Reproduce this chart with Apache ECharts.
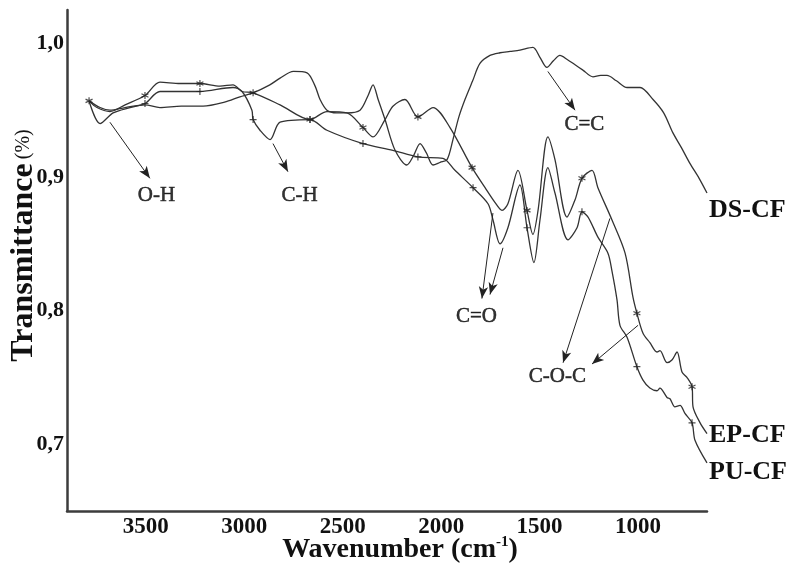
<!DOCTYPE html>
<html>
<head>
<meta charset="utf-8">
<title>FTIR spectra</title>
<script src="https://cdn.jsdelivr.net/npm/echarts@6/dist/echarts.min.js"></script>
<style>
  html, body { margin: 0; padding: 0; background: #fff; }
  #chart { width: 797px; height: 566px; }
</style>
</head>
<body>
<div id="chart"></div>
<script>
// [wavenumber (cm-1), transmittance]
const dsCurve = [
  [3788, 0.957], [3732, 0.952], [3682, 0.950], [3605, 0.952], [3504, 0.954], [3428, 0.952],
  [3320, 0.953], [3209, 0.953], [3100, 0.956], [3022, 0.960], [2955, 0.963], [2870, 0.969],
  [2818, 0.974], [2750, 0.979], [2681, 0.978], [2640, 0.968], [2615, 0.958], [2580, 0.950],
  [2530, 0.948], [2478, 0.948], [2412, 0.950], [2371, 0.961], [2346, 0.969], [2320, 0.958],
  [2285, 0.943], [2234, 0.920], [2174, 0.909], [2140, 0.916], [2107, 0.925], [2075, 0.918],
  [2041, 0.909], [2005, 0.911], [1970, 0.913], [1940, 0.928], [1910, 0.945], [1879, 0.958],
  [1840, 0.972], [1803, 0.985], [1752, 0.991], [1701, 0.993], [1650, 0.994], [1600, 0.995],
  [1534, 0.997], [1500, 0.990], [1463, 0.982], [1430, 0.987], [1397, 0.991], [1360, 0.988],
  [1320, 0.984], [1280, 0.980], [1229, 0.975], [1190, 0.976], [1158, 0.976], [1110, 0.972],
  [1056, 0.967], [990, 0.967], [924, 0.958], [870, 0.948], [823, 0.933], [780, 0.922],
  [736, 0.910], [690, 0.899], [650, 0.888]
]
const epCurve = [
  [3788, 0.957], [3748, 0.952], [3682, 0.949], [3605, 0.954], [3504, 0.961], [3428, 0.971],
  [3326, 0.970], [3225, 0.970], [3123, 0.968], [3057, 0.969], [3011, 0.964], [2955, 0.963],
  [2818, 0.954], [2666, 0.943], [2580, 0.949], [2478, 0.948], [2397, 0.937], [2346, 0.930],
  [2285, 0.943], [2245, 0.953], [2184, 0.958], [2118, 0.945], [2041, 0.952], [1955, 0.937],
  [1843, 0.907], [1777, 0.892], [1727, 0.881], [1691, 0.875], [1661, 0.880], [1610, 0.905],
  [1564, 0.875], [1534, 0.857], [1508, 0.875], [1458, 0.930], [1422, 0.913], [1361, 0.870],
  [1320, 0.883], [1285, 0.899], [1234, 0.905], [1204, 0.892], [1133, 0.868], [1066, 0.843],
  [1026, 0.810], [1006, 0.798], [975, 0.783], [940, 0.776], [904, 0.769], [889, 0.770],
  [853, 0.761], [828, 0.763], [802, 0.769], [777, 0.754], [752, 0.750], [726, 0.743],
  [721, 0.728], [685, 0.716], [650, 0.708]
]
const puCurve = [
  [3788, 0.957], [3732, 0.940], [3666, 0.948], [3580, 0.952], [3504, 0.955], [3428, 0.964],
  [3225, 0.964], [3057, 0.967], [3011, 0.964], [2961, 0.950], [2955, 0.943], [2920, 0.935],
  [2869, 0.928], [2818, 0.941], [2666, 0.943], [2580, 0.935], [2397, 0.925], [2245, 0.920],
  [2118, 0.915], [1991, 0.914], [1930, 0.905], [1838, 0.892], [1762, 0.880], [1737, 0.868],
  [1701, 0.850], [1661, 0.862], [1600, 0.894], [1564, 0.862], [1529, 0.836], [1498, 0.868],
  [1458, 0.907], [1422, 0.888], [1356, 0.853], [1310, 0.862], [1285, 0.874], [1254, 0.870],
  [1204, 0.855], [1153, 0.843], [1133, 0.830], [1107, 0.808], [1092, 0.789], [1056, 0.780],
  [1006, 0.758], [975, 0.748], [940, 0.742], [904, 0.740], [889, 0.742], [853, 0.735],
  [838, 0.734], [813, 0.728], [787, 0.729], [762, 0.723], [726, 0.716], [711, 0.703],
  [650, 0.686]
]
// point markers drawn on the curves
const epMarks = [
  [3788, 0.957], [3504, 0.961], [3225, 0.970], [2955, 0.963], [2666, 0.943], [2397, 0.937],
  [2118, 0.945], [1843, 0.907], [1564, 0.875], [1285, 0.899], [1006, 0.798], [726, 0.743]
]
const puMarks = [
  [3504, 0.955], [3225, 0.964], [2955, 0.943], [2666, 0.943], [2397, 0.925], [2118, 0.915],
  [1838, 0.892], [1564, 0.862], [1285, 0.874], [1006, 0.758], [726, 0.716]
]
// band annotations
const bandNames = ['O-H', 'C-H', 'C=C', 'C=O', 'C-O-C']
const bandLabelPos = [[3443, 0.886], [2717, 0.886], [1270, 0.939], [1818, 0.795], [1407, 0.750]]
const bandArrows = [
  [[3682, 0.941], [3479, 0.899]],
  [[2854, 0.925], [2778, 0.904]],
  [[1458, 0.979], [1320, 0.950]],
  [[1737, 0.873], [1793, 0.809]],
  [[1686, 0.847], [1752, 0.812]],
  [[1143, 0.869], [1381, 0.761]],
  [[1000, 0.789], [1234, 0.760]]
]
const xTicks = [3500, 3000, 2500, 2000, 1500, 1000]
const yTicks = [0.7, 0.8, 0.9, 1.0]

const serif = 'Liberation Serif'
const ink = '#333'

const chart = echarts.init(document.getElementById('chart'))

function curve(name, data, offset) {
  return {
    name: name,
    type: 'line',
    data: data,
    smooth: 0.3,
    symbol: 'none',
    lineStyle: { color: ink, width: 1.3 },
    endLabel: {
      show: true,
      formatter: '{a}',
      align: 'left',
      verticalAlign: 'middle',
      offset: offset,
      color: '#111',
      fontFamily: serif,
      fontWeight: 'bold',
      fontSize: 26
    },
    z: 2
  }
}

function marks(data, path) {
  return {
    type: 'scatter',
    data: data,
    symbol: path,
    symbolSize: 7,
    itemStyle: { color: 'none', borderColor: '#222', borderWidth: 1.2 },
    z: 3
  }
}

const option = {
  animation: false,
  grid: { left: 67, right: 90, top: 10, bottom: 55, containLabel: false, outerBoundsMode: 'none' },
  xAxis: {
    type: 'value',
    inverse: true,
    min: 650,
    max: 3900,
    interval: 50,
    name: '{a|Wavenumber (cm}{s|-1}{a|)}',
    nameLocation: 'middle',
    nameGap: 24,
    nameMoveOverlap: false,
    nameTextStyle: {
      padding: [0, 0, 0, 26],
      rich: {
        a: { fontFamily: serif, fontWeight: 'bold', fontSize: 28, color: '#111' },
        s: { fontFamily: serif, fontWeight: 'bold', fontSize: 15, color: '#111', padding: [0, 0, 14, 0] }
      }
    },
    axisLine: { lineStyle: { color: '#3c3c3c', width: 2.5 } },
    axisTick: { show: false },
    splitLine: { show: false },
    axisLabel: {
      margin: 5,
      fontFamily: serif,
      fontWeight: 'bold',
      fontSize: 23,
      color: '#111',
      formatter: v => (xTicks.indexOf(Math.round(v)) >= 0 ? String(Math.round(v)) : '')
    }
  },
  yAxis: {
    type: 'value',
    min: 0.65,
    max: 1.025,
    interval: 0.05,
    name: '{a|Transmittance}{b|(%)}',
    nameLocation: 'middle',
    nameRotate: 90,
    nameGap: 27,
    nameMoveOverlap: false,
    nameTextStyle: {
      padding: [0, 0, 0, 30],
      rich: {
        a: { fontFamily: serif, fontWeight: 'bold', fontSize: 32, color: '#111' },
        b: { fontFamily: serif, fontSize: 20, color: '#111', padding: [0, 0, 0, 4] }
      }
    },
    axisLine: { show: true, lineStyle: { color: '#3c3c3c', width: 2.5 } },
    axisTick: { show: false },
    splitLine: { show: false },
    axisLabel: {
      margin: 3,
      fontFamily: serif,
      fontWeight: 'bold',
      fontSize: 22,
      color: '#111',
      formatter: v => {
        const t = yTicks.find(y => Math.abs(y - v) < 1e-6)
        return t === undefined ? '' : t.toFixed(1).replace('.', ',')
      }
    }
  },
  series: [
    curve('DS-CF', dsCurve, [10, 17]),
    curve('EP-CF', epCurve, [10, 2]),
    curve('PU-CF', puCurve, [10, 9]),
    marks(epMarks, 'path://M5,0L5,10M0.7,2.5L9.3,7.5M0.7,7.5L9.3,2.5'),
    marks(puMarks, 'path://M5,0L5,10M0,5L10,5'),
    {
      type: 'scatter',
      data: bandNames.map((n, i) => ({ name: n, value: bandLabelPos[i] })),
      symbolSize: 1,
      itemStyle: { color: 'rgba(0,0,0,0)' },
      label: {
        show: true,
        position: [0, 0],
        align: 'center',
        verticalAlign: 'middle',
        formatter: '{b}',
        fontFamily: serif,
        fontSize: 21,
        color: '#000',
        textBorderColor: '#000',
        textBorderWidth: 0.5
      },
      markLine: {
        silent: true,
        symbol: ['none', 'arrow'],
        symbolSize: [7, 12],
        label: { show: false },
        lineStyle: { color: '#222', width: 1, type: 'solid' },
        data: bandArrows.map(a => [{ coord: a[0] }, { coord: a[1] }])
      },
      z: 4
    }
  ]
}

chart.setOption(option)
</script>
</body>
</html>
